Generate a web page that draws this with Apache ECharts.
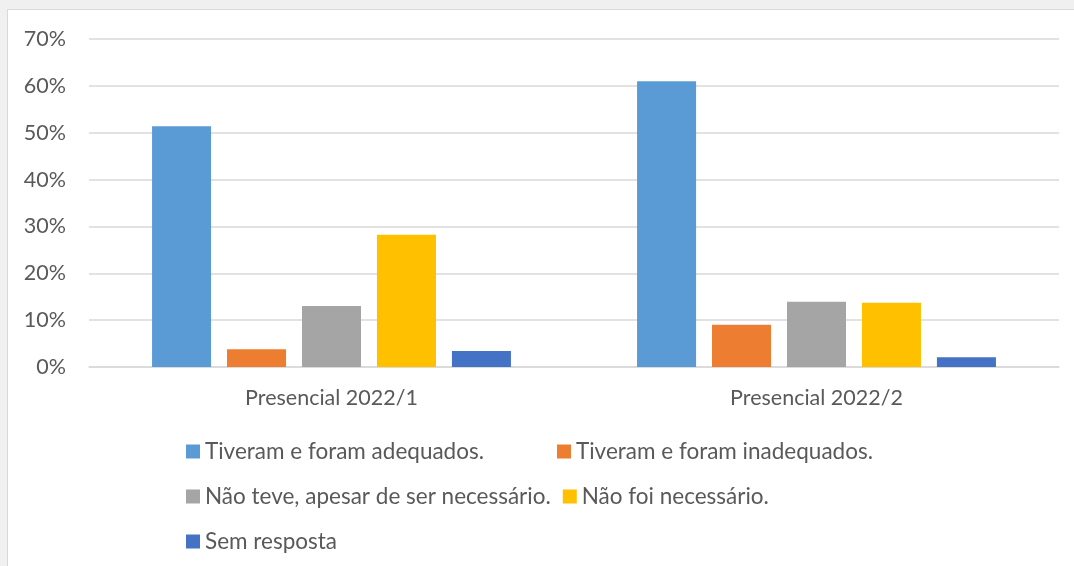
<!DOCTYPE html>
<html lang="pt">

<head>
    <meta http-equiv="Content-Type" content="text/html; charset=utf-8" />
    <title>Presencial 2022</title>
    <style>
        html,
        body {
            width: 100%;
            height: 100%;
            margin: 0;
            padding: 0;
            overflow: hidden;
            background: #f0f0f0;
        }

        #myChart {
            position: absolute;
            left: 7px;
            top: 9px;
            width: 1080px;
            height: 570px;
            border: 1px solid #d9d9d9;
            background: #ffffff;
        }
    </style>
</head>

<body>
    <div id="myChart"></div>
    <script src="https://cdn.jsdelivr.net/npm/echarts@6/dist/echarts.min.js"></script>
    <script>
        // dados (%)
        var categorias = ['Presencial 2022/1', 'Presencial 2022/2'];
        var nomesSeries = [
            'Tiveram e foram adequados.',
            'Tiveram e foram inadequados.',
            'Não teve, apesar de ser necessário.',
            'Não foi necessário.',
            'Sem resposta'
        ];
        var adequados = [51.4, 61.0];
        var inadequados = [3.8, 9.0];
        var naoTeve = [13.0, 13.9];
        var naoNecessario = [28.2, 13.7];
        var semResposta = [3.4, 2.1];
        var cores = ['#5b9bd5', '#ed7d31', '#a5a5a5', '#ffc000', '#4472c4'];

        var valores = [adequados, inadequados, naoTeve, naoNecessario, semResposta];
        var fonte = 'Lato, "DejaVu Sans", sans-serif';

        var series = [];
        for (var i = 0; i < nomesSeries.length; i++) {
            series.push({
                name: nomesSeries[i],
                type: 'bar',
                data: valores[i],
                barGap: '27%',
                barCategoryGap: '26%',
                itemStyle: { color: cores[i] }
            });
        }

        var myChart = echarts.init(document.getElementById('myChart'));
        var option = {
            animation: false,
            color: cores,
            grid: {
                left: 81,
                top: 29,
                width: 970,
                height: 328
            },
            legend: {
                data: nomesSeries,
                left: 173,
                top: 420,
                width: 760,
                itemWidth: 14,
                itemHeight: 14,
                itemGap: 12,
                icon: 'rect',
                textStyle: {
                    color: '#595959',
                    fontSize: 22.5,
                    fontFamily: fonte,
                    width: 340,
                    lineHeight: 33
                }
            },
            xAxis: {
                type: 'category',
                data: categorias,
                axisTick: { show: false },
                axisLine: { lineStyle: { color: '#d9d9d9', width: 1.5 } },
                axisLabel: {
                    color: '#595959',
                    fontSize: 21.5,
                    fontFamily: fonte,
                    margin: 20
                }
            },
            yAxis: {
                type: 'value',
                min: 0,
                max: 70,
                interval: 10,
                axisLine: { show: false },
                axisTick: { show: false },
                splitLine: { lineStyle: { color: '#d9d9d9', width: 1.5 } },
                axisLabel: {
                    color: '#595959',
                    fontSize: 21.5,
                    fontFamily: fonte,
                    margin: 23,
                    formatter: '{value}%'
                }
            },
            series: series
        };
        myChart.setOption(option);
    </script>
</body>

</html>
